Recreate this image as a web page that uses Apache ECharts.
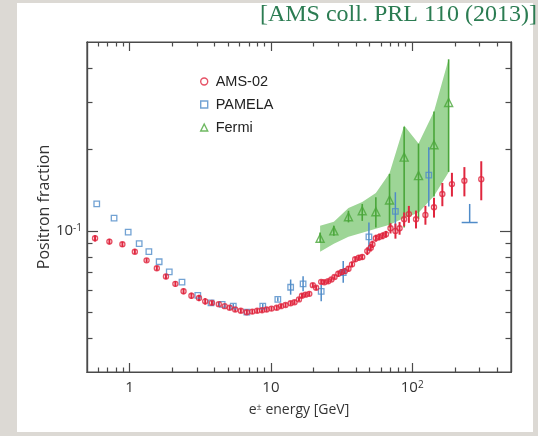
<!DOCTYPE html>
<html><head><meta charset="utf-8">
<style>
html,body{margin:0;padding:0;background:#dcd9d4;overflow:hidden}
#panel{position:absolute;left:17px;top:3px;width:516px;height:429px;background:#fff}
#c{position:absolute;left:0;top:0;width:538px;height:436px}
</style>
<script src="https://cdn.jsdelivr.net/npm/echarts@6/dist/echarts.min.js"></script>
</head><body><div id="panel"></div><div id="c"></div>
<script>
// ---- data ----
const amsE = [0.57, 0.72, 0.89, 1.09, 1.32, 1.56, 1.81, 2.11, 2.41, 2.74, 3.10, 3.43, 3.83, 4.28, 4.71, 5.11, 5.59, 6.13, 6.75, 7.39, 8.0, 8.66, 9.33, 10.1, 11.0, 11.8, 12.7, 13.8, 14.7, 15.8, 16.6, 17.6, 18.7, 19.8, 20.9, 22.7, 23.9, 25.4, 26.8, 28.2, 30.0, 31.7, 33.4, 35.4, 37.5, 39.5, 41.9, 44.3, 48.1, 50.9, 52.3, 55.3, 58.4, 61.8, 65.2, 70.2, 76.1, 81.4, 87.7, 94.7, 106.4, 124, 142.6, 163.4, 191, 234, 308];
const amsF = [0.0938, 0.0912, 0.0891, 0.0837, 0.0777, 0.0727, 0.0677, 0.0636, 0.0597, 0.0575, 0.0564, 0.0548, 0.0541, 0.0535, 0.0526, 0.0519, 0.0511, 0.0506, 0.0499, 0.0502, 0.0506, 0.0508, 0.0511, 0.0515, 0.0519, 0.0526, 0.0531, 0.0539, 0.0544, 0.0557, 0.0575, 0.0580, 0.0584, 0.0629, 0.0615, 0.0647, 0.0645, 0.0650, 0.0660, 0.0674, 0.0693, 0.0703, 0.0709, 0.0723, 0.0751, 0.0784, 0.0795, 0.0800, 0.0841, 0.0866, 0.0891, 0.0939, 0.0949, 0.0958, 0.0971, 0.1022, 0.0999, 0.1022, 0.1104, 0.1153, 0.1104, 0.1145, 0.1222, 0.1368, 0.1489, 0.1531, 0.1553];
const amsErr = [0.0025, 0.0022, 0.0020, 0.0020, 0.0015, 0.0015, 0.0015, 0.0015, 0.0015, 0.0015, 0.0015, 0.0015, 0.0010, 0.0010, 0.0010, 0.0010, 0.0010, 0.0010, 0.0010, 0.0010, 0.0010, 0.0010, 0.0010, 0.0010, 0.0010, 0.0010, 0.0010, 0.0010, 0.0010, 0.0010, 0.0012, 0.0012, 0.0012, 0.0012, 0.0012, 0.0012, 0.0012, 0.0012, 0.0012, 0.0012, 0.0018, 0.0018, 0.0018, 0.0018, 0.0018, 0.0018, 0.0018, 0.0018, 0.0028, 0.0028, 0.0028, 0.0028, 0.0028, 0.0028, 0.0028, 0.0045, 0.0064, 0.0055, 0.0065, 0.0083, 0.0084, 0.0092, 0.0103, 0.0135, 0.0150, 0.0190, 0.0256];

const pamE = [0.586, 0.777, 0.978, 1.17, 1.37, 1.62, 1.91, 2.35, 3.04, 3.77, 4.52, 5.42, 6.76, 8.76, 11.2, 13.8, 16.9, 22.7, 32.5, 49.4, 76, 131];
const pamF = [0.1257, 0.1114, 0.0988, 0.0897, 0.0837, 0.0768, 0.0705, 0.0645, 0.0577, 0.0541, 0.0534, 0.0526, 0.0500, 0.0526, 0.0557, 0.0618, 0.0636, 0.0597, 0.0700, 0.0949, 0.1179, 0.1607];
const pamLo = [0.1257, 0.1114, 0.0988, 0.0897, 0.0837, 0.0768, 0.0705, 0.0645, 0.0577, 0.0541, 0.0534, 0.0516, 0.0492, 0.0516, 0.0547, 0.0580, 0.0597, 0.0548, 0.0642, 0.0841, 0.0999, 0.1229];
const pamHi = [0.1257, 0.1114, 0.0988, 0.0897, 0.0837, 0.0768, 0.0705, 0.0645, 0.0577, 0.0541, 0.0534, 0.0536, 0.0508, 0.0536, 0.0567, 0.0660, 0.0679, 0.0633, 0.0773, 0.1074, 0.1389, 0.2040];
const pamLimE = [255];
const pamLimLo = [0.1073];
const pamLimHi = [0.1257];

const fermiE = [22.3, 27.9, 35.4, 44.3, 55.3, 69.1, 87.7, 110.8, 142.6, 181];
const fermiF = [0.0938, 0.0999, 0.1127, 0.1186, 0.1176, 0.1300, 0.1874, 0.1600, 0.2083, 0.2986];
const fermiLo = [0.0904, 0.0958, 0.1074, 0.1088, 0.1028, 0.1028, 0.1028, 0.1107, 0.1340, 0.1652];
const fermiHi = [0.0985, 0.1043, 0.1186, 0.1257, 0.1330, 0.1625, 0.2430, 0.2101, 0.2762, 0.4314];
const bandLo = [0.0837, 0.0896, 0.0950, 0.0983, 0.1017, 0.1052, 0.1116, 0.1165, 0.1345, 0.1648];
const bandHi = [0.1043, 0.1079, 0.1215, 0.1278, 0.1379, 0.1634, 0.2453, 0.2106, 0.2762, 0.4325];

const xMajor = [1, 10, 100];
const xMinor = [0.6, 0.7, 0.8, 0.9, 2, 3, 4, 5, 6, 7, 8, 9, 20, 30, 40, 50, 60, 70, 80, 90, 200, 300, 400];
const yMajor = [0.1];
const yMinor = [0.04, 0.05, 0.06, 0.07, 0.08, 0.09, 0.2, 0.3, 0.4];
const seriesNames = ['AMS-02', 'PAMELA', 'Fermi'];

// ---- styling ----
const RED = '#e0263e', BLUE = '#4f8bc8', GREEN = '#4aa63a', BAND = '#9dd596';
const AX = '#4a4a4a';
const LABEL_FONT = 'Open Sans';

function xAx(pos, ticks, len, withLabels) {
  return {
    type: 'log', logBase: 10, min: 0.5, max: 500, position: pos,
    axisLine: {show: true, onZero: false, lineStyle: {color: AX, width: 1.2}},
    axisTick: {show: true, inside: true, length: len, customValues: ticks, lineStyle: {color: AX, width: 1.2}},
    axisLabel: withLabels ? {
      show: true, customValues: ticks, margin: 8, color: '#333', fontFamily: LABEL_FONT, fontSize: 15,
      formatter: v => (Math.abs(v - 100) < 1e-6 ? '10{sup|2}' : String(Math.round(v))),
      rich: {sup: {fontSize: 10, fontFamily: LABEL_FONT, color: '#333', verticalAlign: 'top', padding: [0, 0, 6, 0]}}
    } : {show: false},
    splitLine: {show: false}, minorTick: {show: false}
  };
}
function yAx(pos, ticks, len, withLabels) {
  return {
    type: 'log', logBase: 10, min: 0.03, max: 0.5, position: pos,
    axisLine: {show: true, onZero: false, lineStyle: {color: AX, width: 1.2}},
    axisTick: {show: true, inside: true, length: len, customValues: ticks, lineStyle: {color: AX, width: 1.2}},
    axisLabel: withLabels ? {
      show: true, customValues: ticks, margin: 5, color: '#333', fontFamily: LABEL_FONT, fontSize: 15,
      formatter: v => '10{sup|-1}',
      rich: {sup: {fontSize: 10, fontFamily: LABEL_FONT, color: '#333', verticalAlign: 'top', padding: [0, 0, 6, 0]}}
    } : {show: false},
    splitLine: {show: false}, minorTick: {show: false}
  };
}

const xAxes = [xAx('bottom', xMajor, 9, true), xAx('bottom', xMinor, 4.5, false), xAx('top', xMajor, 9, false), xAx('top', xMinor, 4.5, false)];
xAxes[0].name = 'e{sup|±} energy [GeV]';
xAxes[0].nameLocation = 'middle';
xAxes[0].nameGap = 31;
xAxes[0].nameMoveOverlap = false;
xAxes[0].nameTextStyle = {fontFamily: LABEL_FONT, fontSize: 14, color: '#333',
  rich: {sup: {fontSize: 9, fontFamily: LABEL_FONT, color: '#333', verticalAlign: 'top', padding: [0, 0, 5, 0]}}};
const yAxes = [yAx('left', yMajor, 11, true), yAx('left', yMinor, 5.5, false), yAx('right', yMajor, 11, false), yAx('right', yMinor, 5.5, false)];
yAxes[0].name = 'Positron fraction';
yAxes[0].nameLocation = 'middle';
yAxes[0].nameGap = 35;
yAxes[0].nameMoveOverlap = false;
yAxes[0].nameTextStyle = {fontFamily: LABEL_FONT, fontSize: 16, color: '#333'};

function errRender(color, width, cap) {
  return function (params, api) {
    const x = api.value(0), lo = api.value(1), hi = api.value(2);
    const a = api.coord([x, lo]), b = api.coord([x, hi]);
    const children = [{type: 'line', shape: {x1: a[0], y1: a[1], x2: b[0], y2: b[1]}, style: {stroke: color, lineWidth: width}}];
    if (cap) children.push({type: 'line', shape: {x1: a[0] - cap, y1: a[1], x2: a[0] + cap, y2: a[1]}, style: {stroke: color, lineWidth: width}});
    return {type: 'group', children};
  };
}

const amsErrData = amsE.map((e, i) => [e, amsF[i] - amsErr[i], amsF[i] + amsErr[i]]);
const pamErrData = pamE.map((e, i) => [e, pamLo[i], pamHi[i]]);
const pamLimData = pamLimE.map((e, i) => [e, pamLimLo[i], pamLimHi[i]]);
const fermiErrData = fermiE.map((e, i) => [e, fermiLo[i], fermiHi[i]]);

const chart = echarts.init(document.getElementById('c'), null, {renderer: 'canvas'});
chart.setOption({
  backgroundColor: 'transparent',
  animation: false,
  title: {
    text: '[AMS coll. PRL 110 (2013)]', right: 1, top: 3, padding: 0,
    textStyle: {fontFamily: 'Liberation Serif', fontSize: 24, fontWeight: 'normal', color: '#2b7c52'}
  },
  grid: {left: 87, right: 27, top: 42, bottom: 64, show: true, borderColor: AX, borderWidth: 1.2, backgroundColor: 'transparent'},
  legend: {
    orient: 'vertical', left: 195, top: 69, itemGap: 8, itemWidth: 7, itemHeight: 7,
    textStyle: {fontFamily: 'Liberation Sans', fontSize: 14.5, color: '#222', padding: [0, 0, 0, 3]},
    data: [
      {name: seriesNames[0], icon: 'circle', itemStyle: {color: 'rgba(0,0,0,0)', borderColor: RED, borderWidth: 1.4}},
      {name: seriesNames[1], icon: 'rect', itemStyle: {color: 'rgba(0,0,0,0)', borderColor: BLUE, borderWidth: 1.4}},
      {name: seriesNames[2], icon: 'triangle', itemStyle: {color: 'rgba(0,0,0,0)', borderColor: GREEN, borderWidth: 1.4}}
    ]
  },
  xAxis: xAxes,
  yAxis: yAxes,
  series: [
    {
      type: 'custom', name: 'Fermi band', z: 1, silent: true,
      data: [[fermiE[0], bandLo[0]]],
      renderItem: function (params, api) {
        const pts = [];
        for (let i = 0; i < fermiE.length; i++) pts.push(api.coord([fermiE[i], bandHi[i]]));
        for (let i = fermiE.length - 1; i >= 0; i--) pts.push(api.coord([fermiE[i], bandLo[i]]));
        return {type: 'polygon', shape: {points: pts}, style: {fill: BAND, stroke: null}};
      }
    },
    {type: 'custom', name: 'Fermi err', z: 2, silent: true, data: fermiErrData, encode: {x: 0, y: [1, 2]}, renderItem: errRender(GREEN, 1.6, 0)},
    {type: 'custom', name: 'PAMELA err', z: 2, silent: true, data: pamErrData, encode: {x: 0, y: [1, 2]}, renderItem: errRender(BLUE, 1.5, 0)},
    {type: 'custom', name: 'PAMELA lim', z: 2, silent: true, data: pamLimData, encode: {x: 0, y: [1, 2]}, renderItem: errRender(BLUE, 1.5, 8)},
    {type: 'custom', name: 'AMS err', z: 2, silent: true, data: amsErrData, encode: {x: 0, y: [1, 2]}, renderItem: errRender(RED, 2, 0)},
    {
      type: 'scatter', name: seriesNames[1], z: 3, symbol: 'rect', symbolSize: 5.5,
      itemStyle: {color: 'rgba(255,255,255,0)', borderColor: BLUE, borderWidth: 1.3},
      data: pamE.map((e, i) => [e, pamF[i]])
    },
    {
      type: 'scatter', name: seriesNames[2], z: 3, symbol: 'triangle', symbolSize: 8,
      itemStyle: {color: 'rgba(255,255,255,0)', borderColor: GREEN, borderWidth: 1.4},
      data: fermiE.map((e, i) => [e, fermiF[i]])
    },
    {
      type: 'scatter', name: seriesNames[0], z: 4, symbol: 'circle', symbolSize: 5,
      itemStyle: {color: 'rgba(255,255,255,0)', borderColor: RED, borderWidth: 1.4},
      data: amsE.map((e, i) => [e, amsF[i]])
    }
  ]
});
</script></body></html>
